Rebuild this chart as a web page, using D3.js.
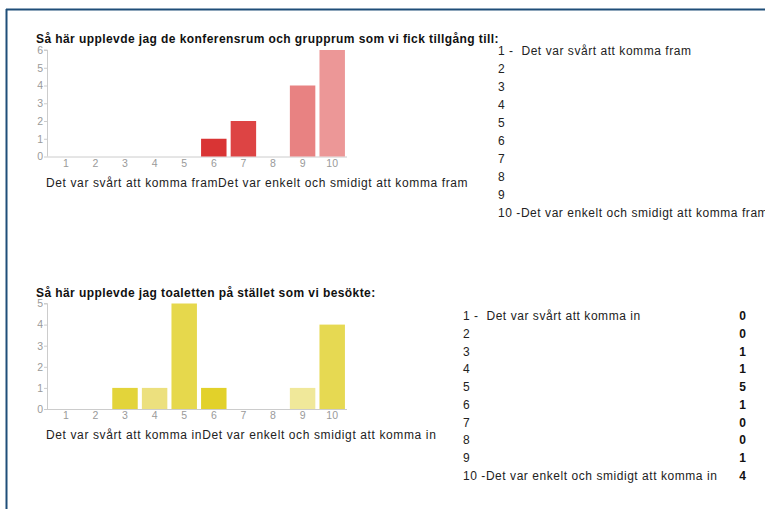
<!DOCTYPE html>
<html>
<head>
<meta charset="utf-8">
<script src="https://cdn.jsdelivr.net/npm/d3@7"></script>
<style>
  body { margin: 0; background: #fff; }
  svg { display: block; font-family: "Liberation Sans", Arial, sans-serif; }
  .axis text { fill: #9a9a9a; font-size: 10.5px; }
  .axis line, .axis path { stroke: #cccccc; }
</style>
</head>
<body>
<svg width="765" height="509"></svg>
<script>
const categories = ["1", "2", "3", "4", "5", "6", "7", "8", "9", "10"];

const title1 = "Så här upplevde jag de konferensrum och grupprum som vi fick tillgång till:";
const values1 = [0, 0, 0, 0, 0, 1, 2, 0, 4, 6];
const xTitle1 = "Det var svårt att komma framDet var enkelt och smidigt att komma fram";
const list1 = ["1 -  Det var svårt att komma fram", "2", "3", "4", "5", "6", "7", "8", "9",
  "10 -Det var enkelt och smidigt att komma fram"];

const title2 = "Så här upplevde jag toaletten på stället som vi besökte:";
const values2 = [0, 0, 1, 1, 5, 1, 0, 0, 1, 4];
const xTitle2 = "Det var svårt att komma inDet var enkelt och smidigt att komma in";
const list2 = ["1 -  Det var svårt att komma in", "2", "3", "4", "5", "6", "7", "8", "9",
  "10 -Det var enkelt och smidigt att komma in"];

const colors1 = ["#d93434", "#d93434", "#d93434", "#d93434", "#d93434", "#d93434", "#dd4444", "#e57070", "#e88282", "#ec9797"];
const colors2 = ["#e3d43a", "#e3d43a", "#e3d43a", "#ece07e", "#e6d84c", "#e2d12a", "#e6d952", "#e6d952", "#f0e89a", "#e6d952"];

const svg = d3.select("svg");

// frame
svg.append("line").attr("x1", 6).attr("x2", 765).attr("y1", 9.5).attr("y2", 9.5)
  .attr("stroke", "#1f4e79").attr("stroke-width", 2);
svg.append("line").attr("x1", 6.5).attr("x2", 6.5).attr("y1", 9).attr("y2", 509)
  .attr("stroke", "#1f4e79").attr("stroke-width", 2);

const drawChart = (opt) => {
  const g = svg.append("g");

  const x = d3.scaleBand()
    .domain(categories)
    .range([51, 347])
    .paddingInner(0.14)
    .paddingOuter(0.07);

  const y = d3.scaleLinear()
    .domain([0, opt.max])
    .range([opt.bottom, opt.top]);

  g.append("text")
    .attr("x", 36)
    .attr("y", opt.top - 7)
    .style("font-size", "12px")
    .style("font-weight", "bold")
    .style("letter-spacing", "0.42px")
    .attr("fill", "#111")
    .text(opt.title);

  const yAxis = g.append("g")
    .attr("class", "axis")
    .attr("transform", "translate(47,0)")
    .call(d3.axisLeft(y).ticks(opt.max).tickSize(3).tickPadding(1).tickFormat(d3.format("d")));
  yAxis.select(".domain").attr("d", `M-3,${opt.top}H0.5V${opt.bottom}`);

  const xAxis = g.append("g")
    .attr("class", "axis")
    .attr("transform", `translate(0,${opt.bottom})`)
    .call(d3.axisBottom(x).tickSize(0).tickPadding(3));
  xAxis.select(".domain").attr("d", "M47,0.5H347");

  g.selectAll("rect.bar")
    .data(opt.values)
    .enter()
    .append("rect")
    .attr("class", "bar")
    .attr("x", (d, i) => x(categories[i]))
    .attr("y", d => y(d))
    .attr("width", x.bandwidth())
    .attr("height", d => opt.bottom - y(d))
    .attr("fill", (d, i) => opt.colors[i]);

  g.append("text")
    .attr("x", 46)
    .attr("y", opt.bottom + 30)
    .style("font-size", "12px")
    .style("letter-spacing", "0.62px")
    .attr("fill", "#222")
    .text(opt.xTitle);

  const row = d3.scalePoint()
    .domain(categories)
    .range(opt.listRows);

  g.selectAll("text.item")
    .data(opt.list)
    .enter()
    .append("text")
    .attr("class", "item")
    .attr("x", opt.listX)
    .attr("y", (d, i) => row(categories[i]))
    .style("font-size", "12px")
    .style("letter-spacing", "0.55px")
    .style("white-space", "pre")
    .attr("fill", "#222")
    .text(d => d);

  if (opt.counts) {
    g.selectAll("text.count")
      .data(opt.values)
      .enter()
      .append("text")
      .attr("class", "count")
      .attr("x", 746)
      .attr("y", (d, i) => row(categories[i]))
      .attr("text-anchor", "end")
      .style("font-size", "12px")
      .style("font-weight", "bold")
      .attr("fill", "#111")
      .text(d => d);
  }
};

drawChart({
  title: title1, values: values1, colors: colors1, xTitle: xTitle1, list: list1,
  max: 6, top: 50, bottom: 156.5, listX: 498, listRows: [55, 217], counts: false
});

drawChart({
  title: title2, values: values2, colors: colors2, xTitle: xTitle2, list: list2,
  max: 5, top: 303.5, bottom: 409, listX: 463, listRows: [320, 480], counts: true
});
</script>
</body>
</html>
